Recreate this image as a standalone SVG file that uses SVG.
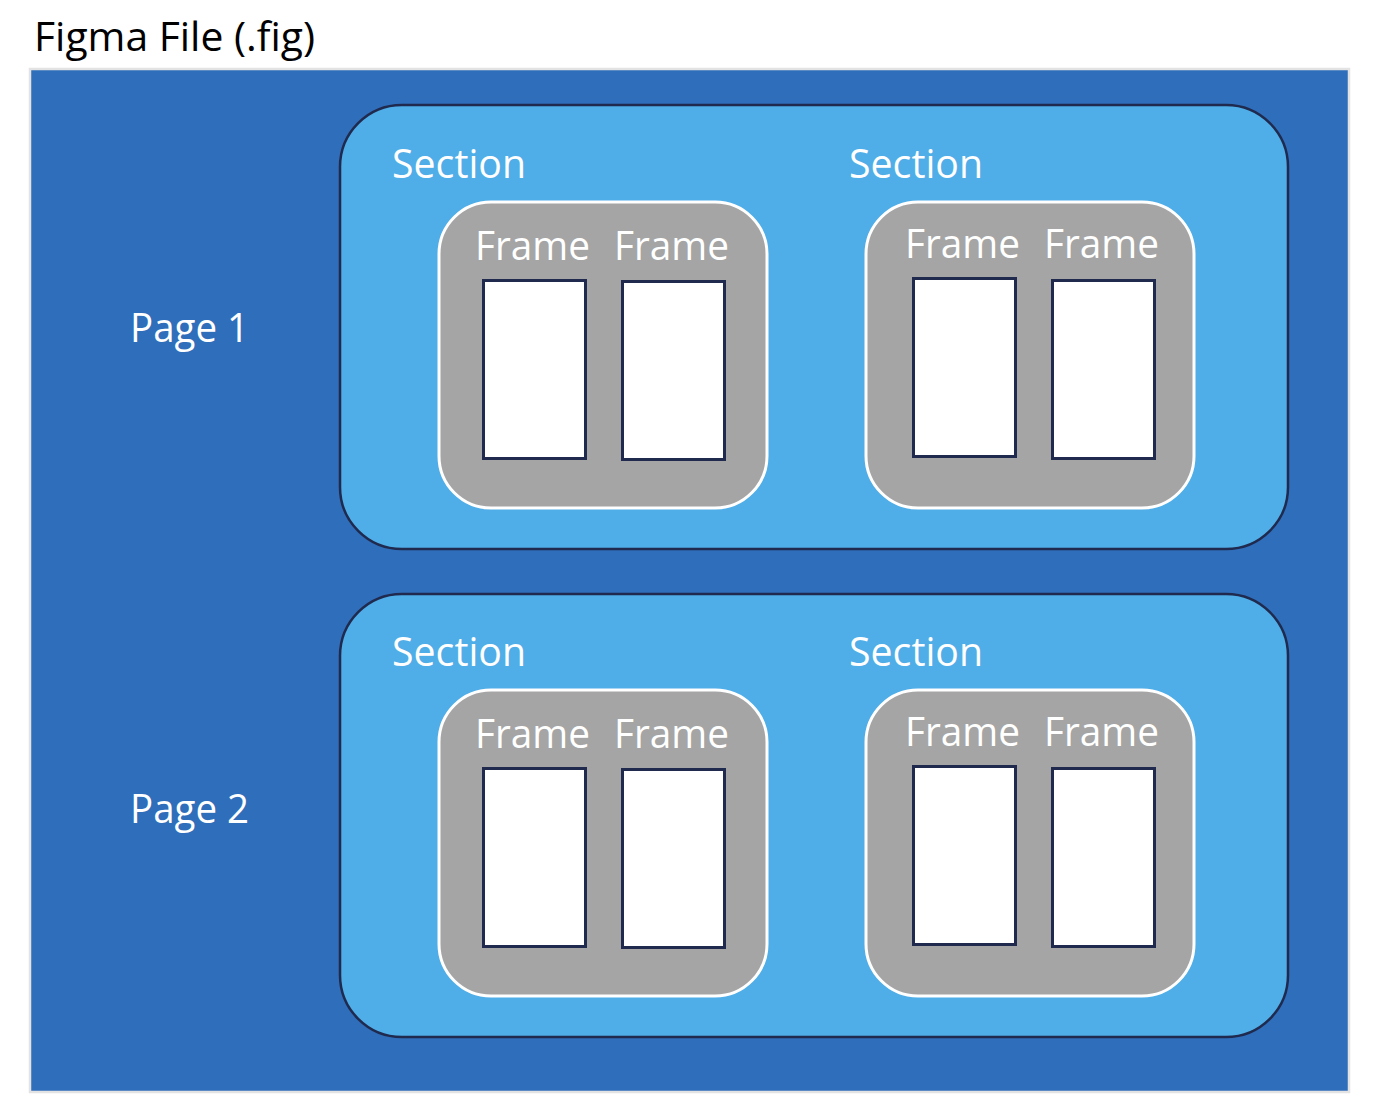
<svg xmlns="http://www.w3.org/2000/svg" width="1380" height="1112" viewBox="0 0 1380 1112">
<style>
text{font-family:"Open Sans","Noto Sans","Liberation Sans",sans-serif;font-size:40px;}
.t{fill:#000;}
.w{fill:#fff;}
.file{fill:#2F6EBA;stroke:#E3E3E3;stroke-width:2.5;}
.page{fill:#4FADE8;stroke:#1F2A4E;stroke-width:2.5;}
.sec{fill:#A5A5A5;stroke:#fff;stroke-width:3;}
.frm{fill:#fff;stroke:#1F2A4E;stroke-width:3;}
</style>
<rect width="1380" height="1112" fill="#fff"/>
<g id="file">
<rect class="file" x="30" y="69" width="1319" height="1023"/>
<text class="t" x="34" y="51" textLength="281" lengthAdjust="spacingAndGlyphs">Figma File (.fig)</text>
</g>
<g id="page1">
<rect class="page" x="340" y="105" width="948" height="444" rx="62"/>
<text class="w" x="130" y="342" textLength="119" lengthAdjust="spacingAndGlyphs">Page 1</text>
</g>
<g id="page1-section1">
<text class="w" x="392" y="178" textLength="134" lengthAdjust="spacingAndGlyphs">Section</text>
<rect class="sec" x="439" y="202" width="328" height="306" rx="52"/>
</g>
<g id="page1-section1-frame1">
<text class="w" x="475" y="260" textLength="115" lengthAdjust="spacingAndGlyphs">Frame</text>
<rect class="frm" x="483.5" y="280.5" width="102" height="178"/>
</g>
<g id="page1-section1-frame2">
<text class="w" x="614" y="260" textLength="115" lengthAdjust="spacingAndGlyphs">Frame</text>
<rect class="frm" x="622.5" y="281.5" width="102" height="178"/>
</g>
<g id="page1-section2">
<text class="w" x="849" y="178" textLength="134" lengthAdjust="spacingAndGlyphs">Section</text>
<rect class="sec" x="866" y="202" width="328" height="306" rx="52"/>
</g>
<g id="page1-section2-frame1">
<text class="w" x="905" y="258" textLength="115" lengthAdjust="spacingAndGlyphs">Frame</text>
<rect class="frm" x="913.5" y="278.5" width="102" height="178"/>
</g>
<g id="page1-section2-frame2">
<text class="w" x="1044" y="258" textLength="115" lengthAdjust="spacingAndGlyphs">Frame</text>
<rect class="frm" x="1052.5" y="280.5" width="102" height="178"/>
</g>
<g id="page2">
<rect class="page" x="340" y="594" width="948" height="443" rx="62"/>
<text class="w" x="130" y="823" textLength="119" lengthAdjust="spacingAndGlyphs">Page 2</text>
</g>
<g id="page2-section1">
<text class="w" x="392" y="666" textLength="134" lengthAdjust="spacingAndGlyphs">Section</text>
<rect class="sec" x="439" y="690" width="328" height="306" rx="52"/>
</g>
<g id="page2-section1-frame1">
<text class="w" x="475" y="748" textLength="115" lengthAdjust="spacingAndGlyphs">Frame</text>
<rect class="frm" x="483.5" y="768.5" width="102" height="178"/>
</g>
<g id="page2-section1-frame2">
<text class="w" x="614" y="748" textLength="115" lengthAdjust="spacingAndGlyphs">Frame</text>
<rect class="frm" x="622.5" y="769.5" width="102" height="178"/>
</g>
<g id="page2-section2">
<text class="w" x="849" y="666" textLength="134" lengthAdjust="spacingAndGlyphs">Section</text>
<rect class="sec" x="866" y="690" width="328" height="306" rx="52"/>
</g>
<g id="page2-section2-frame1">
<text class="w" x="905" y="746" textLength="115" lengthAdjust="spacingAndGlyphs">Frame</text>
<rect class="frm" x="913.5" y="766.5" width="102" height="178"/>
</g>
<g id="page2-section2-frame2">
<text class="w" x="1044" y="746" textLength="115" lengthAdjust="spacingAndGlyphs">Frame</text>
<rect class="frm" x="1052.5" y="768.5" width="102" height="178"/>
</g>
<g id="connectors"/>
</svg>
